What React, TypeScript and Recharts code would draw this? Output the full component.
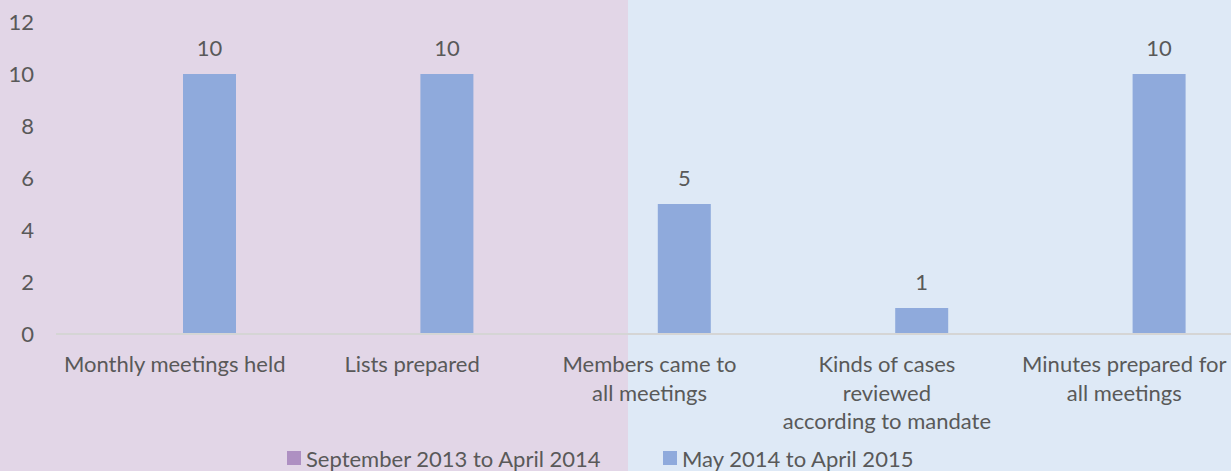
import { BarChart, Bar, XAxis, YAxis, LabelList, Legend } from "recharts";

const categories = [
  "Monthly meetings held",
  "Lists prepared",
  "Members came to\nall meetings",
  "Kinds of cases\nreviewed\naccording to mandate",
  "Minutes prepared for\nall meetings",
];
const sep2013 = [0, 0, 0, 0, 0];
const may2014 = [10, 10, 5, 1, 10];
const yTicks = [0, 2, 4, 6, 8, 10, 12];

const seriesNames = ["September 2013 to April 2014", "May 2014 to April 2015"];
const seriesColors = ["#AE90C2", "#8FAADC"];

const data = categories.map((c, i) => ({ name: c, s1: sep2013[i], s2: may2014[i] }));

const FONT = "Lato, 'Open Sans', sans-serif";
const TEXT = "#595959";
const FS = 22;

function CategoryTick(props: any) {
  const { x, y, payload } = props;
  const lines = String(payload.value).split("\n");
  return (
    <g>
      {lines.map((l, i) => (
        <text key={i} x={x} y={y + 38 + i * 28.5} textAnchor="middle" fill={TEXT} fontSize={FS} fontFamily={FONT}>
          {l}
        </text>
      ))}
    </g>
  );
}

function LegendBox() {
  const lefts = [287, 663];
  return (
    <div style={{ position: "relative", height: 26, width: 1231 }}>
      {seriesNames.map((n, i) => (
        <div key={n} style={{ position: "absolute", left: lefts[i], top: 0, height: 26, display: "flex", alignItems: "center", fontFamily: FONT, fontSize: FS, color: TEXT, whiteSpace: "nowrap" }}>
          <span style={{ display: "inline-block", width: 14, height: 14, background: seriesColors[i], marginRight: 5 }} />
          {n}
        </div>
      ))}
    </div>
  );
}

export default function App() {
  return (
    <div style={{ position: "fixed", left: 0, top: 0, width: 1231, height: 471, overflow: "hidden" }}>
      <div style={{ position: "absolute", left: 0, top: 0, width: 628, height: 471, background: "#E2D6E7" }} />
      <div style={{ position: "absolute", left: 628, top: 0, width: 603, height: 471, background: "#DEE9F6" }} />
      <div style={{ position: "absolute", left: 0, top: 0 }}>
        <BarChart width={1243} height={471} data={data} margin={{ top: 22, right: 0, bottom: 0, left: 0 }} barSize={53} barGap={16}>
          <XAxis
            dataKey="name"
            interval={0}
            tickLine={false}
            tickSize={0}
            tickMargin={0}
            height={111}
            axisLine={{ stroke: "#D5D5D5", strokeWidth: 2 }}
            tick={<CategoryTick />}
          />
          <YAxis
            domain={[0, 12]}
            ticks={yTicks}
            width={56}
            axisLine={false}
            tickLine={false}
            tickSize={0}
            tickMargin={22}
            tick={{ fill: TEXT, fontSize: FS, fontFamily: FONT }}
          />
          <Legend verticalAlign="bottom" align="left" wrapperStyle={{ left: 0, bottom: 0 }} content={<LegendBox />} />
          <Bar dataKey="s1" name={seriesNames[0]} fill={seriesColors[0]} isAnimationActive={false} />
          <Bar dataKey="s2" name={seriesNames[1]} fill={seriesColors[1]} isAnimationActive={false}>
            <LabelList dataKey="s2" position="top" offset={18} fill={TEXT} fontSize={FS} fontFamily={FONT} />
          </Bar>
        </BarChart>
      </div>
    </div>
  );
}
